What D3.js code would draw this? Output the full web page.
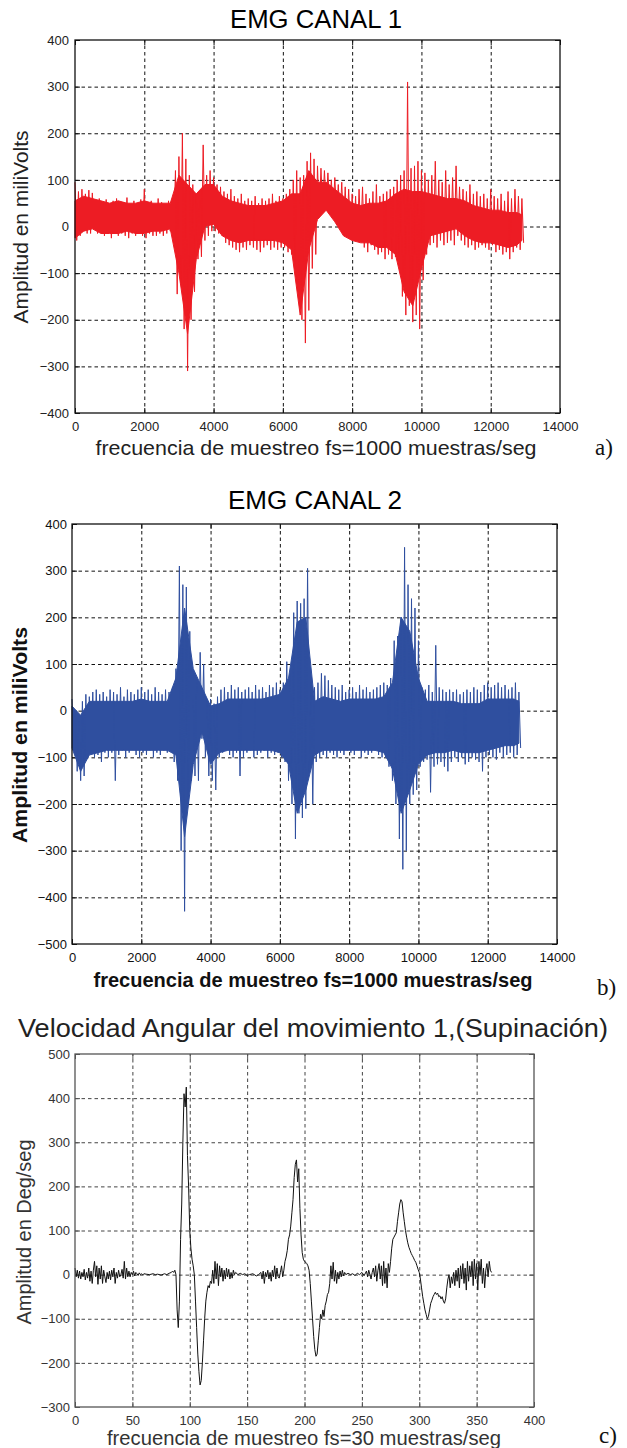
<!DOCTYPE html>
<html><head><meta charset="utf-8">
<script src="https://cdn.jsdelivr.net/npm/d3@7"></script>
<style>body{margin:0;background:#fff}svg{display:block}</style>
</head><body>
<svg id="fig" width="627" height="1448"></svg>
<script>
// ---------- DATA ----------
// EMG channels: spike envelope read every 100 samples (upper / lower extent, mV)
const emgStep = 100;
const ch1Hi = [
  95,75,80,70,78,72,55,60,50,58,
  45,55,60,48,52,62,45,55,50,58,
  80,50,55,45,60,52,48,55,50,120,
  150,200,145,110,90,70,55,175,110,120,
  105,90,85,75,70,80,65,60,70,55,
  60,55,65,50,60,55,60,70,55,65,
  60,70,80,100,120,105,110,140,158,145,
  130,125,120,115,100,105,90,95,85,80,
  70,65,80,85,70,60,75,90,65,70,
  75,80,85,100,110,120,310,125,130,140,
  120,115,100,110,140,100,95,120,90,105,
  130,85,80,75,90,70,75,65,70,60,
  80,65,60,70,55,75,60,80,65,60];
const ch1Lo = [
  -30,-20,-10,-15,-15,0,-15,-10,-20,-15,
  -25,-15,-20,-15,-20,-25,-15,-20,-15,-20,
  -25,-15,-20,-20,-15,-20,-15,-10,-15,-145,
  -120,-220,-310,-200,-140,-70,-65,-30,-20,-10,
  -10,-15,-20,-35,-40,-45,-50,-55,-45,-50,
  -40,-45,-50,-55,-45,-40,-50,-45,-50,-45,
  -45,-55,-60,-80,-120,-200,-250,-180,-90,-60,
  20,40,45,50,35,30,15,0,-10,-15,
  -25,-30,-20,-45,-55,-40,-50,-60,-55,-70,
  -60,-70,-65,-80,-150,-190,-170,-205,-190,-220,
  -115,-60,-40,-35,-45,-30,-40,-35,-30,-40,
  -20,-30,-40,-45,-40,-50,-45,-40,-45,-50,
  -40,-55,-50,-60,-55,-70,-55,-45,-50,-35];
const ch2Hi = [
  25,-10,-20,20,35,30,40,45,35,40,
  30,45,40,35,50,30,45,40,35,45,
  50,40,45,35,50,40,35,45,40,50,
  90,310,270,265,170,25,60,125,100,20,
  25,15,30,45,50,40,55,45,50,40,
  45,50,40,55,45,50,40,55,50,60,
  45,60,105,80,210,235,230,240,305,60,
  50,60,80,75,65,55,50,45,55,40,
  45,50,40,55,45,50,40,45,50,55,
  60,55,70,150,160,200,350,270,240,220,
  150,50,45,55,40,140,50,45,40,45,
  40,45,35,40,45,40,50,45,40,55,
  60,50,55,60,50,55,45,50,60,40];
const ch2Lo = [
  -80,-130,-150,-140,-100,-90,-100,-95,-110,-90,
  -100,-90,-150,-95,-85,-100,-90,-85,-95,-100,
  -90,-95,-85,-100,-90,-95,-85,-90,-80,-110,
  -150,-300,-430,-200,-150,-140,-150,-60,-100,-140,
  -150,-170,-100,-90,-85,-95,-100,-90,-140,-100,
  -90,-85,-100,-95,-90,-85,-100,-90,-95,-90,
  -100,-110,-150,-200,-275,-220,-230,-210,-130,-200,
  -110,-100,-95,-100,-90,-95,-100,-90,-95,-85,
  -90,-95,-85,-100,-90,-95,-90,-85,-95,-100,
  -100,-120,-150,-200,-275,-340,-300,-200,-180,-170,
  -120,-110,-105,-175,-120,-115,-110,-120,-130,-110,
  -100,-110,-100,-115,-110,-100,-105,-110,-130,-100,
  -95,-100,-105,-90,-100,-95,-90,-100,-95,-80];

// Dense core band of each EMG trace, read every 250 samples
const coreX = [0,250,500,750,1000,1250,1500,1750,2000,2250,2500,2750,3000,3250,3500,3750,4000,4250,4500,4750,
  5000,5250,5500,5750,6000,6250,6500,6750,7000,7250,7500,7750,8000,8250,8500,8750,9000,9250,9500,9750,
  10000,10250,10500,10750,11000,11250,11500,11750,12000,12250,12500,12750,12900];
const ch1CoreHi = [55,65,60,55,50,55,50,50,55,50,50,50,110,90,70,90,90,65,55,50,
  45,45,45,50,55,70,70,120,95,95,80,65,50,45,50,50,55,70,80,75,
  75,70,65,60,60,55,45,40,35,35,30,30,25];
const ch1CoreLo = [-25,-10,-5,-15,-15,-15,-10,-15,-15,-10,-10,-5,-100,-230,-70,0,5,-20,-30,-35,
  -30,-30,-30,-30,-35,-50,-190,-50,15,35,10,-20,-30,-35,-35,-45,-45,-60,-140,-170,
  -90,-20,-15,-10,-5,-20,-30,-35,-35,-40,-45,-40,-30];
const ch2CoreHi = [10,-10,20,20,20,20,20,20,25,20,20,20,70,220,90,50,10,15,25,25,
  25,25,25,30,35,70,190,200,20,30,25,20,25,25,25,25,30,60,200,170,
  70,20,20,20,20,15,15,15,25,25,25,25,20];
const ch2CoreLo = [-80,-130,-95,-90,-85,-85,-85,-85,-85,-85,-85,-85,-95,-270,-115,-45,-115,-90,-85,-85,
  -85,-85,-85,-85,-90,-115,-220,-170,-95,-85,-85,-85,-85,-85,-85,-85,-90,-125,-220,-170,
  -115,-95,-90,-90,-85,-90,-90,-90,-85,-80,-75,-75,-70];

// Angular velocity (fs = 30), sample index and Deg/seg
const velX = [0,1,2,3,4,5,6,7,8,9,10,11,12,13,14,15,16,17,18,19,20,21,22,23,24,25,26,27,28,29,
  30,31,32,33,34,35,36,37,38,39,40,41,42,43,44,45,46,47,48,49,50,51,52,53,54,55,56,57,58,59,60,
  62,65,68,70,72,75,78,80,82,84,85,86,87,88,89,90,91,92,93,94,95,96,97,98,99,100,
  101,102,103,104,105,106,107,108,109,110,111,112,113,114,115,116,117,118,119,120,
  121,122,123,124,125,126,127,128,129,130,131,132,133,134,135,136,137,138,139,140,
  142,144,146,148,150,152,155,158,160,162,163,164,165,166,167,168,169,170,
  171,172,173,174,175,176,177,178,179,180,181,182,183,184,185,186,187,188,189,190,
  191,192,193,194,195,196,197,198,199,200,201,202,203,204,205,206,207,208,209,210,
  211,212,213,214,215,216,217,218,219,220,221,222,223,224,225,226,227,228,229,230,
  231,232,233,234,235,236,238,240,242,244,246,248,250,252,254,255,256,257,258,259,260,
  261,262,263,264,265,266,267,268,269,270,271,272,273,274,275,276,277,278,279,280,
  281,282,283,284,285,286,287,288,289,290,291,292,293,294,295,296,297,298,299,300,
  301,302,303,304,305,306,307,308,309,310,311,312,313,314,315,316,317,318,319,320,
  321,322,323,324,325,326,327,328,329,330,331,332,333,334,335,336,337,338,339,340,
  341,342,343,344,345,346,347,348,349,350,351,352,353,354,355,356,357,358,359,360,361,362,363];
const velY = [15,-5,10,-8,8,-10,5,-5,12,-12,5,-8,15,-15,8,-20,10,30,-5,20,-22,15,-10,20,-20,10,-5,-18,5,-10,
  8,-12,10,-5,15,-20,5,-8,10,-5,0,12,-8,30,-10,15,-5,8,-5,5,0,8,-3,5,2,-2,4,0,2,-1,2,
  1,0,2,0,1,-1,2,0,3,5,8,5,10,0,-80,-120,-60,80,160,300,410,380,425,270,200,100,
  60,35,20,0,-60,-120,-180,-220,-250,-240,-200,-150,-100,-60,-40,-25,-30,-15,-20,10,
  -20,30,-10,25,-25,20,-5,15,-15,10,-10,15,-5,12,-10,5,-8,10,0,5,
  0,3,0,2,-2,0,2,-3,0,5,-10,8,-20,5,-5,10,-10,5,
  -15,10,-5,20,-10,15,-5,-8,5,20,-5,10,30,40,55,80,90,110,140,170,
  220,250,260,210,240,150,90,50,35,30,28,25,20,10,-20,-60,-100,-140,-170,-185,
  -180,-150,-120,-90,-100,-80,-95,-70,-60,-45,-40,-20,20,-10,28,-15,10,-20,5,-10,
  8,-5,10,-3,5,0,3,0,2,-2,3,0,5,-2,8,-5,10,0,-10,5,15,
  -5,20,-15,10,25,-10,20,-25,30,-20,15,-30,25,5,30,60,80,85,90,95,
  120,140,160,170,165,140,120,100,85,72,62,55,48,43,38,32,28,20,12,5,
  -10,-30,-50,-65,-80,-90,-100,-95,-80,-65,-58,-50,-45,-40,-45,-42,-50,-48,-55,-50,
  -60,-65,-55,-30,-10,0,-30,-5,-20,5,-25,10,-15,15,-30,20,-10,25,-20,15,
  -35,30,-15,20,-5,30,-25,35,-10,25,-35,30,0,35,-20,15,-30,10,25,-5,30,10,5];

const emgXTicks = [0,2000,4000,6000,8000,10000,12000,14000];
const ch1YTicks = [-400,-300,-200,-100,0,100,200,300,400];
const ch2YTicks = [-500,-400,-300,-200,-100,0,100,200,300,400];
const velXTicks = [0,50,100,150,200,250,300,350,400];
const velYTicks = [-300,-200,-100,0,100,200,300,400,500];

// ---------- DRAWING ----------
const svg = d3.select("#fig");

function panel(o){
  const x = d3.scaleLinear().domain(o.xDom).range([o.l, o.r]);
  const y = d3.scaleLinear().domain(o.yDom).range([o.b, o.t]);
  const g = svg.append("g");
  const h = o.b - o.t, w = o.r - o.l;
  g.append("g").attr("transform",`translate(0,${o.b})`)
    .call(d3.axisBottom(x).tickValues(o.xTicks.slice(1,-1)).tickSize(-h).tickFormat(""))
    .call(s=>s.select(".domain").remove())
    .selectAll("line").attr("stroke",o.grid).attr("stroke-dasharray","3.5,3").attr("stroke-width",1);
  g.append("g").attr("transform",`translate(${o.l},0)`)
    .call(d3.axisLeft(y).tickValues(o.yTicks.slice(1,-1)).tickSize(-w).tickFormat(""))
    .call(s=>s.select(".domain").remove())
    .selectAll("line").attr("stroke",o.grid).attr("stroke-dasharray","3.5,3").attr("stroke-width",1);
  const tk = 5;
  [[d3.axisBottom(x).tickValues(o.xTicks),`translate(0,${o.b})`],
   [d3.axisTop(x).tickValues(o.xTicks),`translate(0,${o.t})`],
   [d3.axisLeft(y).tickValues(o.yTicks),`translate(${o.l},0)`],
   [d3.axisRight(y).tickValues(o.yTicks),`translate(${o.r},0)`]].forEach(([ax,tr])=>{
     g.append("g").attr("transform",tr).call(ax.tickSize(-tk).tickFormat(""))
      .call(s=>s.select(".domain").remove())
      .selectAll("line").attr("stroke",o.box);
  });
  o.draw(g, x, y);
  g.append("rect").attr("x",o.l).attr("y",o.t).attr("width",w).attr("height",h)
    .attr("fill","none").attr("stroke",o.box).attr("stroke-width",1.3);
  g.append("g").attr("transform",`translate(0,${o.b})`)
    .call(d3.axisBottom(x).tickValues(o.xTicks).tickSize(0).tickPadding(o.xPad).tickFormat(d3.format("d")))
    .call(s=>s.select(".domain").remove())
    .selectAll("text").attr("font-family","Liberation Sans, Arial, sans-serif")
    .attr("font-size",o.tickFs).attr("fill",o.tickCol);
  g.append("g").attr("transform",`translate(${o.l},0)`)
    .call(d3.axisLeft(y).tickValues(o.yTicks).tickSize(0).tickPadding(o.yPad).tickFormat(d3.format("d")))
    .call(s=>s.select(".domain").remove())
    .selectAll("text").attr("font-family","Liberation Sans, Arial, sans-serif")
    .attr("font-size",o.tickFs).attr("fill",o.tickCol);
  g.append("text").attr("x",o.title.x).attr("y",o.title.y).attr("text-anchor","middle")
    .attr("font-family","Liberation Sans, Arial, sans-serif").attr("font-size",o.title.fs)
    .attr("fill",o.title.col||"#000")
    .attr("textLength",o.title.len).attr("lengthAdjust","spacingAndGlyphs").text(o.title.text);
  g.append("text").attr("x",o.xl.x).attr("y",o.xl.y).attr("text-anchor","middle")
    .attr("font-family","Liberation Sans, Arial, sans-serif").attr("font-size",o.xl.fs)
    .attr("font-weight",o.xl.w||"normal").attr("fill",o.xl.col)
    .attr("textLength",o.xl.len).attr("lengthAdjust","spacingAndGlyphs").text(o.xl.text);
  g.append("text").attr("transform",`translate(${o.yl.x},${o.yl.y}) rotate(-90)`).attr("text-anchor","middle")
    .attr("font-family","Liberation Sans, Arial, sans-serif").attr("font-size",o.yl.fs)
    .attr("font-weight",o.yl.w||"normal").attr("fill",o.yl.col)
    .attr("textLength",o.yl.len).attr("lengthAdjust","spacingAndGlyphs").text(o.yl.text);
  g.append("text").attr("x",o.letter.x).attr("y",o.letter.y)
    .attr("font-family","Liberation Serif, Times New Roman, serif").attr("font-size",23)
    .attr("fill","#111").text(o.letter.text);
}

function emgDraw(hi, lo, coreHi, coreLo, color){
  return (g, x, y) => {
    g.append("path").datum(coreX.map((v,i)=>[v, coreLo[i], coreHi[i]]))
      .attr("d", d3.area().x(d=>x(d[0])).y0(d=>y(d[1])).y1(d=>y(d[2])))
      .attr("fill",color).attr("stroke",color).attr("stroke-width",1);
    const pts = [];
    hi.forEach((v,i)=>{ pts.push([i*emgStep, v]); pts.push([i*emgStep + emgStep/2, lo[i]]); });
    g.append("path").datum(pts)
      .attr("d", d3.line().x(d=>x(d[0])).y(d=>y(d[1])))
      .attr("fill","none").attr("stroke",color).attr("stroke-width",1);
  };
}

panel({
  l:75, r:560, t:40, b:413, xDom:[0,14000], yDom:[-400,400],
  xTicks:emgXTicks, yTicks:ch1YTicks, grid:"#111", box:"#111",
  tickFs:13, tickCol:"#222", xPad:9, yPad:6,
  draw: emgDraw(ch1Hi, ch1Lo, ch1CoreHi, ch1CoreLo, "#ed1c24"),
  title:{text:"EMG CANAL 1", x:316, y:28, fs:25, len:172},
  xl:{text:"frecuencia de muestreo fs=1000 muestras/seg", x:316, y:455, fs:21, len:441, col:"#222"},
  yl:{text:"Amplitud en miliVolts", x:28, y:227, fs:21, len:193, col:"#222"},
  letter:{text:"a)", x:595, y:455}
});

panel({
  l:72, r:557, t:524, b:944, xDom:[0,14000], yDom:[-500,400],
  xTicks:emgXTicks, yTicks:ch2YTicks, grid:"#111", box:"#111",
  tickFs:13, tickCol:"#111", xPad:9, yPad:5,
  draw: emgDraw(ch2Hi, ch2Lo, ch2CoreHi, ch2CoreLo, "#2f4f9f"),
  title:{text:"EMG CANAL 2", x:315, y:509, fs:25, len:174},
  xl:{text:"frecuencia de muestreo fs=1000 muestras/seg", x:313, y:987, fs:21, len:439, w:"bold", col:"#111"},
  yl:{text:"Amplitud en miliVolts", x:27, y:735, fs:21, len:216, w:"bold", col:"#111"},
  letter:{text:"b)", x:597, y:995}
});

panel({
  l:75, r:534, t:1054, b:1407, xDom:[0,400], yDom:[-300,500],
  xTicks:velXTicks, yTicks:velYTicks, grid:"#444", box:"#555",
  tickFs:13, tickCol:"#333", xPad:9, yPad:5,
  draw: (g,x,y)=>{
    g.append("path").datum(velX.map((v,i)=>[v, velY[i]]))
      .attr("d", d3.line().x(d=>x(d[0])).y(d=>y(d[1])))
      .attr("fill","none").attr("stroke","#111").attr("stroke-width",1);
  },
  title:{text:"Velocidad Angular del movimiento 1,(Supinación)", x:313, y:1037, fs:26, len:590, col:"#222"},
  xl:{text:"frecuencia de muestreo fs=30 muestras/seg", x:304, y:1445, fs:20, len:394, col:"#333"},
  yl:{text:"Amplitud en Deg/seg", x:31, y:1232, fs:20, len:185, col:"#333"},
  letter:{text:"c)", x:599, y:1443}
});
</script>
</body></html>
